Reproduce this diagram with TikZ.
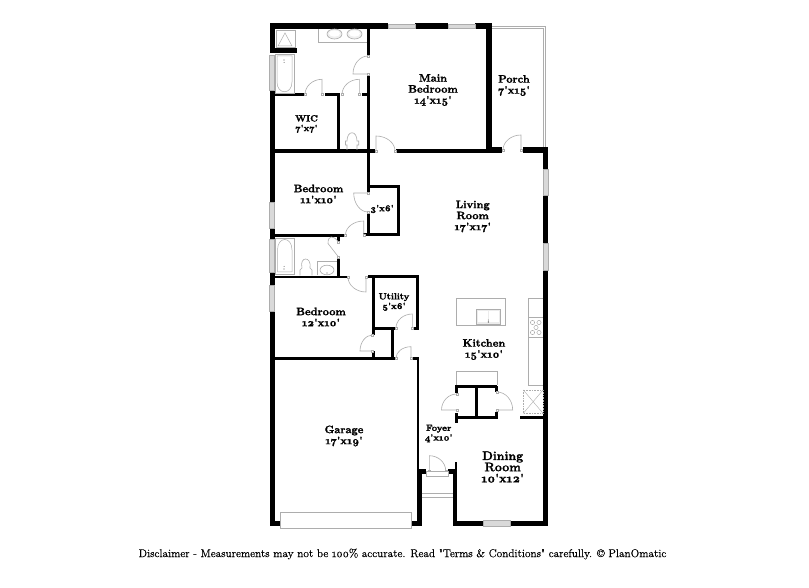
\documentclass[tikz,border=0pt]{standalone}
\usepackage{fontspec}
\setmainfont{Latin Modern Roman}[Numbers=OldStyle,BoldFeatures={FakeBold=1.6}]
\newfontfamily\discfont{Latin Modern Roman}[Numbers=OldStyle,FakeBold=0.5]
\usetikzlibrary{calc}
\definecolor{wingray}{gray}{0.85}
\definecolor{fixgray}{gray}{0.68}
\newcommand{\ap}{\textquotesingle}
\tikzset{
  fixture/.style={draw=fixgray,line width=0.6pt,fill=white},
  winbox/.style={draw=fixgray,line width=0.6pt,fill=wingray},
  doorline/.style={draw=fixgray,line width=0.6pt},
  lblm/.style={font=\fontsize{10.8}{11}\selectfont\bfseries,align=center,inner sep=0pt},
  lbls/.style={font=\fontsize{9}{9.6}\selectfont\bfseries,align=center,inner sep=0pt},
  lbll/.style={font=\fontsize{12.4}{11.2}\selectfont\bfseries,align=center,inner sep=0pt},
}
\newcommand{\wl}[4]{\fill[black] (#1,#2) rectangle (#3,#4);}
\newcommand{\win}[4]{\draw[winbox] (#1,#2) rectangle (#3,#4);}
\newcommand{\door}[6]{\draw[doorline] (#1,#2) -- (#3,#4) .. controls ($(#3,#4)+0.55*(#5,#6)-0.55*(#1,#2)$) and ($(#5,#6)+0.55*(#3,#4)-0.55*(#1,#2)$) .. (#5,#6);
  \draw[fixgray,line width=0.4pt,fill=white] ($(#1,#2)+(-1,-1)$) rectangle ($(#1,#2)+(1,1)$);
  \draw[fixgray,line width=0.4pt,fill=white] ($(#5,#6)+(-1,-1)$) rectangle ($(#5,#6)+(1,1)$);}
\begin{document}
\begin{tikzpicture}[x=1pt,y=-1pt]
\useasboundingbox (0,0) rectangle (809,588);
\fill[white] (0,0) rectangle (809,588);
% porch outline
\draw[fixgray,line width=0.5pt] (492,26) -- (545,26) -- (545,147);
\draw[fixgray,line width=0.5pt] (492,28) -- (543,28) -- (543,147);
% outer walls
\wl{269.5}{23.5}{388}{29}
\wl{415}{23.5}{448}{29}
\wl{475}{23.5}{492}{29}
\wl{486}{23.5}{492}{153}
\wl{486}{147.5}{502}{153}
\wl{523}{147}{548}{153}
\wl{543}{147}{548}{169}
\wl{543}{195}{548}{243}
\wl{543}{270}{548}{526}
\wl{269.5}{23.5}{275}{53}
\wl{269.5}{90}{275}{202}
\wl{269.5}{228}{275}{239}
\wl{269.5}{272}{275}{285}
\wl{269.5}{311}{275}{526}
\wl{269.5}{520.5}{280}{526}
\wl{411.7}{520.5}{421.7}{526}
\wl{416.7}{468.5}{421.7}{526}
\wl{416.5}{358}{419.3}{470}
\wl{416.7}{468.5}{426}{474}
\wl{448}{468.5}{457.3}{474}
\wl{455}{462.3}{457.3}{474}
\wl{452.7}{474}{457.3}{526}
\wl{452.7}{520.7}{483}{526}
\wl{510}{520.7}{548}{526}
% windows
\win{388}{24}{415}{28.5}
\win{448}{24}{475}{28.5}
\win{543.5}{169}{548}{195}
\win{543.5}{243}{548}{270}
\win{269}{55}{274}{90}
\win{269}{202}{274}{228}
\win{269}{239}{274}{272}
\win{269}{285}{274}{311}
\win{483}{520.7}{510}{526.7}
% interior walls
\wl{274}{48}{297}{53}
\wl{366.7}{29}{370.2}{55}
\wl{367.2}{74}{370.2}{192}
\wl{367.2}{212}{370.2}{236}
\wl{274}{93.2}{303.5}{96.2}
\wl{325}{93.2}{340}{96.2}
\wl{361.7}{93.2}{370}{96.2}
\wl{337.2}{94}{340}{151}
\wl{274}{149.5}{375}{152.7}
\wl{396}{149.5}{490}{152.7}
% closet
\wl{367}{185}{399.3}{188}
\wl{396.5}{185}{399.5}{236}
\wl{363}{233.2}{399.5}{236.2}
% bath
\wl{274}{234}{345.3}{237}
\wl{337}{234}{340.3}{241}
\wl{337}{257}{340.3}{278}
\wl{274}{275.7}{347.3}{278.5}
% utility
\wl{368.3}{275.5}{418.7}{278.5}
\wl{371.5}{276}{374.5}{335}
\wl{371.5}{351}{374.5}{358}
\wl{416}{276}{418.9}{329.5}
\wl{371.7}{326.5}{395}{329.5}
\wl{413}{326.5}{418.9}{329.5}
\wl{390.8}{327}{393.6}{358}
\wl{274}{357.2}{395}{360.2}
\wl{413}{357.2}{419.3}{360.2}
% pantry
\wl{455}{385}{497.3}{388.3}
\wl{455}{385}{458.3}{393}
\wl{455}{413}{458.3}{423.3}
\wl{455}{416}{498.3}{419}
\wl{475}{386}{477.9}{418}
\wl{495}{386}{498.3}{392}
\wl{495}{411.7}{498.3}{418}
\wl{520}{416}{543}{418.5}
% doors
\door{368}{74}{353}{74}{368}{56}
\door{322}{94.5}{322}{79.3}{305}{94.5}
\door{359.3}{94.5}{359.3}{79.3}{342}{94.5}
\door{376}{151}{376}{136}{395}{151}
\door{521}{150}{521}{135}{503}{150}
\door{368}{193}{353.7}{193}{368}{212}
\door{363.7}{235}{363.7}{221}{345.5}{235}
\door{338.5}{257}{328}{243.5}{338.5}{242}
\door{366}{277}{366}{292}{348}{277}
\door{412.3}{328}{412.3}{314}{396}{328}
\door{372.6}{351}{360}{351}{372.6}{335}
\door{411}{358}{411}{346.7}{396}{358}
\door{429.3}{470.7}{429.3}{455.7}{445.7}{470.7}
\door{456.7}{410}{441.5}{410}{456.7}{394}
\door{497}{410}{512.7}{410}{497}{392}
% threshold and step
\draw[fixture] (426,471.7) rectangle (448,476);
\draw[fixgray,line width=0.5pt] (421.7,493) -- (452.7,493) (421.7,497) -- (452.7,497);
% garage door
\draw[fixture] (280,512.3) rectangle (411.7,528.3);
% shower
\draw[fixgray,line width=0.6pt] (276,30) rectangle (295,47);
\draw[fixgray,line width=0.5pt] (278,46) -- (285,33) -- (292,46) -- cycle;
% vanity and sinks
\draw[fixgray,line width=0.6pt] (318,29) -- (318,42) -- (367,42);
\draw[fixgray,line width=0.6pt,fill=wingray!40] (334.5,34) ellipse [x radius=7.5,y radius=5];
\draw[fixgray,line width=0.6pt,fill=wingray!40] (354.5,34) ellipse [x radius=7.5,y radius=5];
\fill[white] (334.5,33.5) ellipse [x radius=5.5,y radius=3.2];
\fill[white] (354.5,33.5) ellipse [x radius=5.5,y radius=3.2];
% upper tub
\draw[fixgray,line width=0.6pt] (275,54) rectangle (294,93);
\draw[fixgray,line width=0.5pt] (277,56) -- (292,56) -- (292,82) .. controls (292,95) and (277,95) .. (277,82) -- cycle;
\fill[black!60] (284,60) circle (0.7) (284,62.5) circle (0.5);
% upper toilet
\draw[fixgray,line width=0.6pt] (347,150) -- (347,145) -- (345.5,145) -- (345.5,141) -- (347,141) .. controls (347,130) and (357,130) .. (357,141) -- (358.7,141) -- (358.7,145) -- (357,145) -- (357,150);
% lower tub
\draw[fixgray,line width=0.6pt] (275.3,238.5) rectangle (294.3,274.3);
\draw[fixgray,line width=0.5pt] (277.5,272) -- (292,272) -- (292,250) .. controls (292,236) and (277.5,236) .. (277.5,250) -- cycle;
\fill[black!60] (284,269) circle (0.7) (284,266.5) circle (0.5);
% lower toilet
\draw[fixgray,line width=0.6pt] (300,275.5) -- (300,270) -- (302,268) .. controls (299,256) and (312,256) .. (310,268) -- (312,270) -- (312,275.5);
% lower sink
\draw[fixgray,line width=0.6pt] (317,275.5) -- (317,261.7) -- (336.5,261.7);
\draw[fixgray,line width=0.6pt] (327,270) ellipse [x radius=7,y radius=4.8];
\fill[black!60] (327,273) circle (0.6);
% island and sink
\draw[fixture] (456.7,298.3) rectangle (505,325);
\draw[fixgray,line width=0.6pt,fill=wingray!50] (476.7,309) rectangle (500,324.3);
\fill[white] (478,310.5) rectangle (487.7,321.5);
\fill[white] (489,310.5) rectangle (498.7,321.5);
\fill[black!60] (488.3,322) circle (0.8) (488.3,320) circle (0.5);
% counter and stove
\draw[fixgray,line width=0.6pt] (543,298.3) -- (528.3,298.3) -- (528.3,385) -- (543,385);
\draw[fixgray,line width=0.6pt] (528.3,317.7) -- (543,317.7) (528.3,337.3) -- (543,337.3);
\foreach \px/\py in {532.5/322.5,532.5/332.5,539/322.5,539/332.5,536/327.5}{\draw[fixgray,line width=0.5pt] (\px,\py) circle (2.1);}
% dotted box
\draw[fixgray,line width=0.6pt,densely dotted] (523.3,390) rectangle (543,413.3);
\draw[fixgray,line width=0.4pt] (523.3,390) -- (543,413.3) (523.3,413.3) -- (543,390);
% pantry counter
\draw[fixgray,line width=0.6pt] (456.7,385) -- (456.7,371) -- (497.3,371) -- (497.3,385);
% labels
\node[lblm] (main) at (433,90) {Main\\Bedroom\\14\ap x15\ap};
\node[lblm] (porch) at (514,85.5) {Porch\\7\ap x15\ap};
\node[lbls] (wic) at (306.5,124) {WIC\\7\ap x7\ap};
\node[lblm] (bed1) at (318.5,194) {Bedroom\\11\ap x10\ap};
\node[lbls] (clos) at (382,209) {3\ap x6\ap};
\node[lblm] (living) at (472.7,216.5) {Living\\Room\\17\ap x17\ap};
\node[lblm] (bed2) at (321,317) {Bedroom\\12\ap x10\ap};
\node[lbls] (util) at (394,302) {Utility\\5\ap x6\ap};
\node[lblm] (kitchen) at (484,349.5) {Kitchen\\15\ap x10\ap};
\node[lbls] (foyer) at (438.7,433.5) {Foyer\\4\ap x10\ap};
\node[lblm] (garage) at (344,436) {Garage\\17\ap x19\ap};
\node[lbll] (dining) at (502.7,467) {Dining\\Room\\10\ap x12\ap};
\node[inner sep=0pt,font=\discfont\fontsize{11.3}{12}\selectfont] (disc) at (402.5,554) {Disclaimer - Measurements may not be 100\% accurate. Read "Terms \& Conditions" carefully. © PlanOmatic};
\end{tikzpicture}
\end{document}
